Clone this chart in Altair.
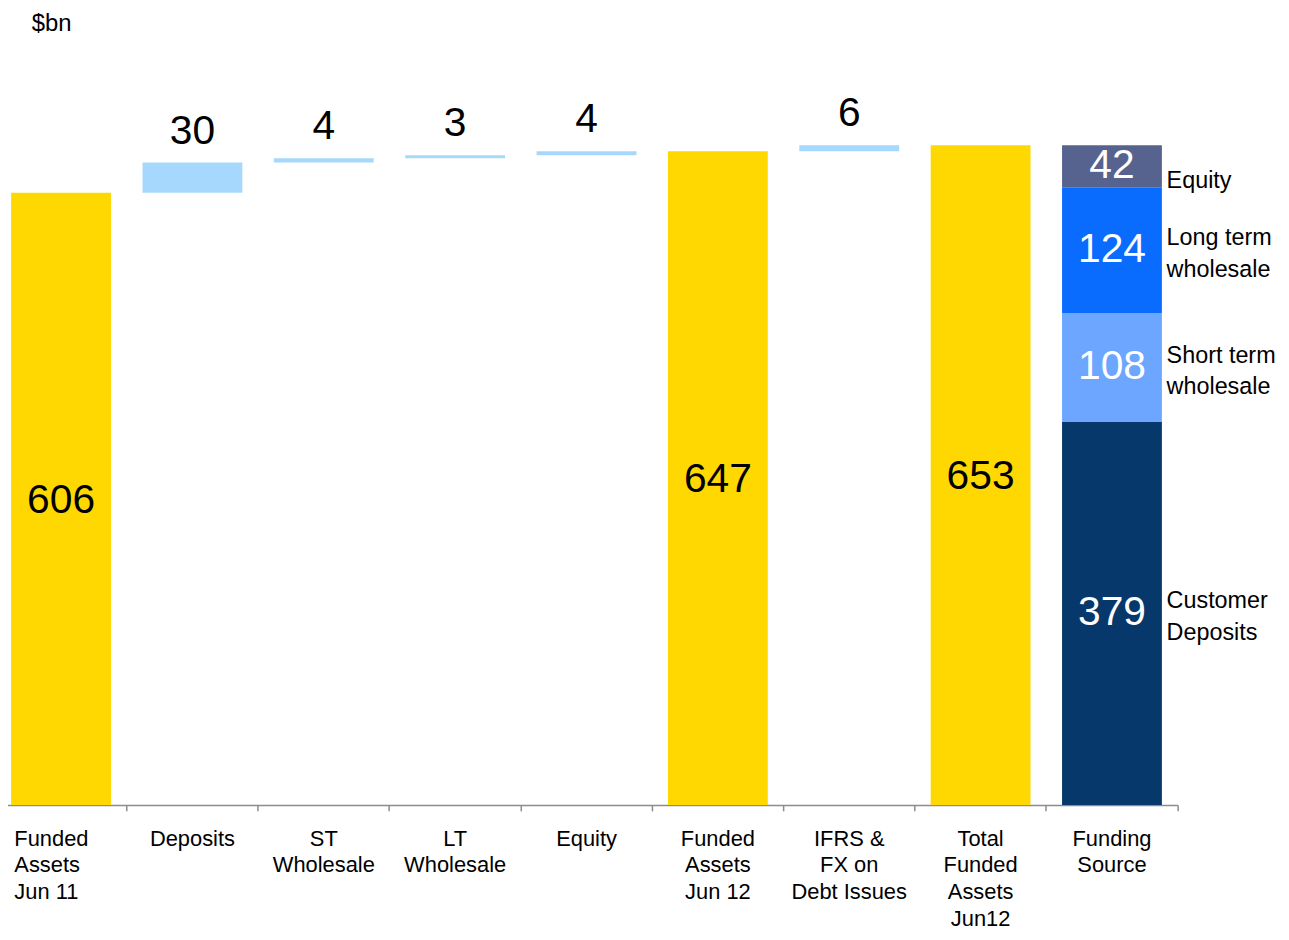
import altair as alt
import pandas as pd

# ---- data ----
categories = [
    "Funded|Assets|Jun 11", "Deposits", "ST|Wholesale", "LT|Wholesale", "Equity",
    "Funded|Assets|Jun 12", "IFRS &|FX on|Debt Issues", "Total|Funded|Assets|Jun12",
    "Funding|Source",
]
step_values = [606, 30, 4, 3, 4, 647, 6, 653]
step_kinds = ["total", "delta", "delta", "delta", "delta", "total", "delta", "total"]

funding_parts = ["Customer|Deposits", "Short term|wholesale", "Long term|wholesale", "Equity"]
funding_values = [379, 108, 124, 42]

kind_domain = ["total", "delta"] + funding_parts
kind_colors = ["#FFD802", "#A6D8FE", "#06386B", "#6CA6FF", "#0A6CFF", "#56638F"]

# ---- build tables ----
rows = []
running = 0
for cat, val, kind in zip(categories[:-1], step_values, step_kinds):
    if kind == "total":
        start, end = 0, val
    else:
        start, end = running, running + val
    running = end
    rows.append(dict(cat=cat, kind=kind, start=start, end=end, value=val, mid=(start + end) / 2))
wf = pd.DataFrame(rows)

frows = []
acc = 0
for part, val in zip(funding_parts, funding_values):
    frows.append(dict(cat=categories[-1], kind=part, start=acc, end=acc + val, value=val,
                      mid=acc + val / 2))
    acc += val
fs = pd.DataFrame(frows)

bars_df = pd.concat([wf, fs], ignore_index=True)
labels_df = pd.DataFrame({"cat": categories})

FONT = "Liberation Sans"

xscale = alt.Scale(domain=categories, range=[-12.7, 1177], paddingInner=0.24, paddingOuter=0.12,
                   round=False)
yscale = alt.Scale(domain=[0, 786], nice=False, zero=False)

x_axis = alt.Axis(labels=False, title=None, domainColor="#8C8C8C", tickColor="#8C8C8C",
                  domainWidth=1.5, tickWidth=1.5, tickSize=6, bandPosition=1.158, grid=False)

X = alt.X("cat:N", scale=xscale, axis=x_axis)
Y = lambda f: alt.Y(f, scale=yscale, axis=None)

bars = alt.Chart(bars_df).mark_bar().encode(
    x=X,
    y=Y("start:Q"),
    y2="end:Q",
    color=alt.Color("kind:N", scale=alt.Scale(domain=kind_domain, range=kind_colors), legend=None),
)

total_text = alt.Chart(wf).transform_filter(alt.datum.kind == "total").mark_text(
    font=FONT, fontSize=41, color="black", baseline="middle", dy=2
).encode(x=X, y=Y("mid:Q"), text="value:Q")

delta_text = alt.Chart(wf).transform_filter(alt.datum.kind == "delta").mark_text(
    font=FONT, fontSize=41, color="black", baseline="bottom", dy=-10
).encode(x=X, y=Y("end:Q"), text="value:Q")

stack_text = alt.Chart(fs).mark_text(
    font=FONT, fontSize=41, color="white", baseline="middle"
).encode(x=X, y=Y("mid:Q"), text="value:Q")

side_text = alt.Chart(fs).transform_filter(alt.datum.kind != "Equity").mark_text(
    font=FONT, fontSize=23.5, color="black", align="left", baseline="middle",
    lineBreak="|", lineHeight=32, dx=55, dy=-12
).encode(x=X, y=Y("mid:Q"), text="kind:N")

side_eq = alt.Chart(fs).transform_filter(alt.datum.kind == "Equity").mark_text(
    font=FONT, fontSize=23.5, color="black", align="left", baseline="middle", dx=55, dy=15
).encode(x=X, y=Y("mid:Q"), text="kind:N")

cat_first = alt.Chart(labels_df).transform_filter(alt.datum.cat == categories[0]).mark_text(
    font=FONT, fontSize=22, color="black", align="left", baseline="top",
    lineBreak="|", lineHeight=27, dx=-47, dy=24
).encode(x=X, y=alt.datum(0), text="cat:N")

cat_rest = alt.Chart(labels_df).transform_filter(alt.datum.cat != categories[0]).mark_text(
    font=FONT, fontSize=22, color="black", align="center", baseline="top",
    lineBreak="|", lineHeight=27, dy=24
).encode(x=X, y=alt.datum(0), text="cat:N")

unit = alt.Chart(pd.DataFrame({"t": ["$bn"]})).mark_text(
    font=FONT, fontSize=24, color="black", align="left", baseline="alphabetic"
).encode(x=alt.value(24), y=alt.value(20), text="t:N")

chart = alt.layer(
    bars, total_text, delta_text, stack_text, side_text, side_eq, cat_first, cat_rest, unit
).properties(
    width=1177, height=799,
    autosize=alt.AutoSizeParams(type="none"),
    padding={"left": 0, "top": 0, "right": 104, "bottom": 125},
).configure(font=FONT).configure_view(stroke=None)

chart.save("out.html", embed_options={"renderer": "svg", "actions": False})
